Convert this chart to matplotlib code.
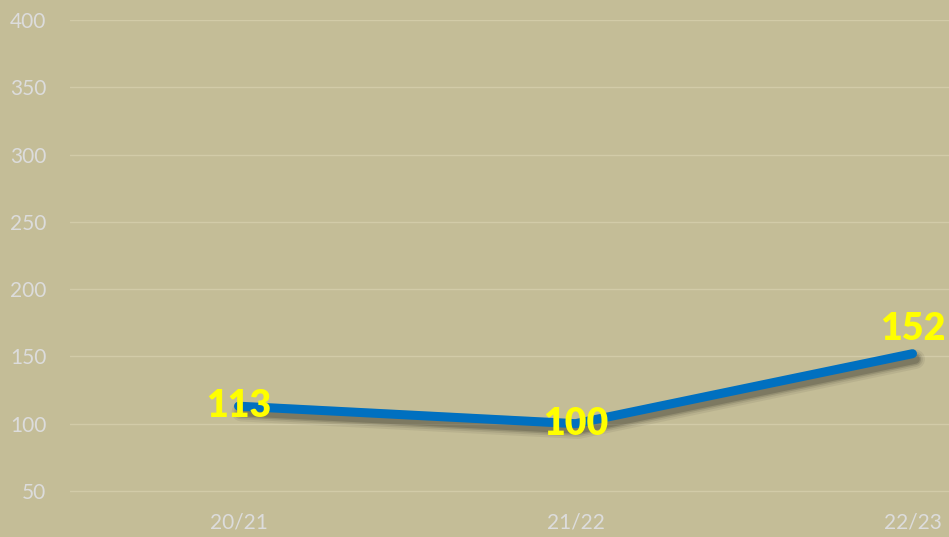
import matplotlib.pyplot as plt
import matplotlib.patheffects as pe

seasons = ["20/21", "21/22", "22/23"]
values = [113, 100, 152]
y_ticks = [50, 100, 150, 200, 250, 300, 350, 400]

BG = "#C4BD97"
LINE = "#0070C0"
TICK = "#DCDCDC"
GRID = "#D2CBA8"

plt.rcParams["font.family"] = ["Lato", "DejaVu Sans"]

fig = plt.figure(figsize=(9.49, 5.37), dpi=100, facecolor=BG)
# plot area runs past the right edge, like the cropped original
ax = fig.add_axes([0.0738, 0.0607, 1.0653, 0.9021])
ax.set_facecolor(BG)

# soft blurred shadow: a few wide, faint strokes under the line
shadow = [pe.SimpleLineShadow(offset=(2, -4), shadow_color="black",
                              alpha=a, linewidth=w)
          for w, a in [(14, 0.06), (11, 0.08), (8.5, 0.12), (6.5, 0.15)]]

x = list(range(len(seasons)))
ax.plot(x, values, color=LINE, linewidth=6.5, solid_capstyle="round",
        solid_joinstyle="round", zorder=3,
        path_effects=shadow + [pe.Normal()])

# label offsets in points (last one sits above the point)
label_offsets = [(0, 0), (0, 0), (0, 18)]
for xi, v, off in zip(x, values, label_offsets):
    ax.annotate(str(v), (xi, v), xytext=off, textcoords="offset points",
                ha="center", va="center", fontsize=27, fontweight="heavy",
                color="#FFFF00", zorder=4)

ax.set_xlim(-0.5, 2.5)
ax.set_ylim(40, 400)
ax.set_yticks(y_ticks)
ax.set_xticks(x)
ax.set_xticklabels(seasons)
ax.yaxis.grid(True, color=GRID, linewidth=1)
ax.set_axisbelow(True)
for s in ax.spines.values():
    s.set_visible(False)
ax.tick_params(axis="y", length=0, pad=17, labelsize=15, labelcolor=TICK)
ax.tick_params(axis="x", length=0, pad=6, labelsize=15, labelcolor=TICK)

fig.savefig("out.png", dpi=100, facecolor=BG)
